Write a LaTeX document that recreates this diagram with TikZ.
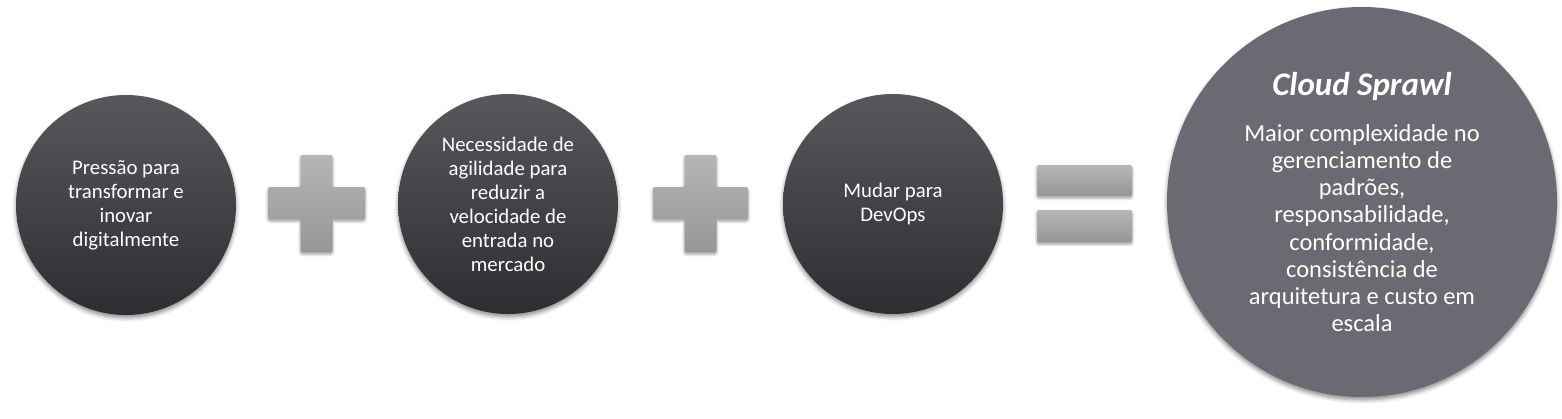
\documentclass[tikz,border=0pt]{standalone}
\usepackage{fontspec}
\setmainfont{Carlito}
\usetikzlibrary{shadows.blur}
\definecolor{circtop}{HTML}{58585C}
\definecolor{circbot}{HTML}{2E2E32}
\definecolor{bigfill}{HTML}{6A6A72}
\definecolor{optop}{HTML}{B6B6B6}
\definecolor{opbot}{HTML}{969696}
\tikzset{
  smallcirc/.style={circle, minimum size=220bp, inner sep=0pt, top color=circtop, bottom color=circbot,
    text=white, align=center, font=\fontsize{20.8bp}{24bp}\selectfont,
    blur shadow={shadow xshift=0bp, shadow yshift=-3bp, shadow blur radius=4bp, shadow opacity=45}},
  bigcirc/.style={circle, minimum size=390bp, inner sep=0pt, fill=bigfill,
    blur shadow={shadow xshift=0bp, shadow yshift=-3bp, shadow blur radius=4bp, shadow opacity=45}},
  optxt/.style={text=white, align=center, inner sep=0pt},
  opshape/.style={top color=optop, bottom color=opbot, rounded corners=2bp,
    blur shadow={shadow xshift=0bp, shadow yshift=-2bp, shadow blur radius=3bp, shadow opacity=40}}
}
\begin{document}
\begin{tikzpicture}[x=1bp,y=-1bp]
\useasboundingbox (0,0) rectangle (1562,418);
% circles
\node[smallcirc] (c1) at (126,205) {Pressão para\\transformar e\\inovar\\digitalmente};
\node[smallcirc] (c2) at (508,204) {Necessidade de\\agilidade para\\reduzir a\\velocidade de\\entrada no\\mercado};
\node[smallcirc] (c3) at (893,204) {Mudar para\\DevOps};
\node[bigcirc] (c4) at (1362,202) {};
\node[optxt, font=\fontsize{33bp}{38bp}\selectfont\bfseries\itshape] (title) at (1362,87) {Cloud Sprawl};
\node[optxt, font=\fontsize{24.5bp}{27.2bp}\selectfont] (desc) at (1362,228) {Maior complexidade no\\gerenciamento de\\padrões,\\responsabilidade,\\conformidade,\\consistência de\\arquitetura e custo em\\escala};
% plus 1
\path[opshape] (300.5,155) -- (332.5,155) -- (332.5,187) -- (365,187) -- (365,219) -- (332.5,219) -- (332.5,252) -- (300.5,252) -- (300.5,219) -- (268,219) -- (268,187) -- (300.5,187) -- cycle;
% plus 2
\path[opshape] (684.5,155) -- (716.5,155) -- (716.5,187) -- (748,187) -- (748,219) -- (716.5,219) -- (716.5,252) -- (684.5,252) -- (684.5,219) -- (653,219) -- (653,187) -- (684.5,187) -- cycle;
% equals
\path[opshape] (1037,165) rectangle (1132,196);
\path[opshape] (1037,210) rectangle (1132,242);
\end{tikzpicture}
\end{document}
